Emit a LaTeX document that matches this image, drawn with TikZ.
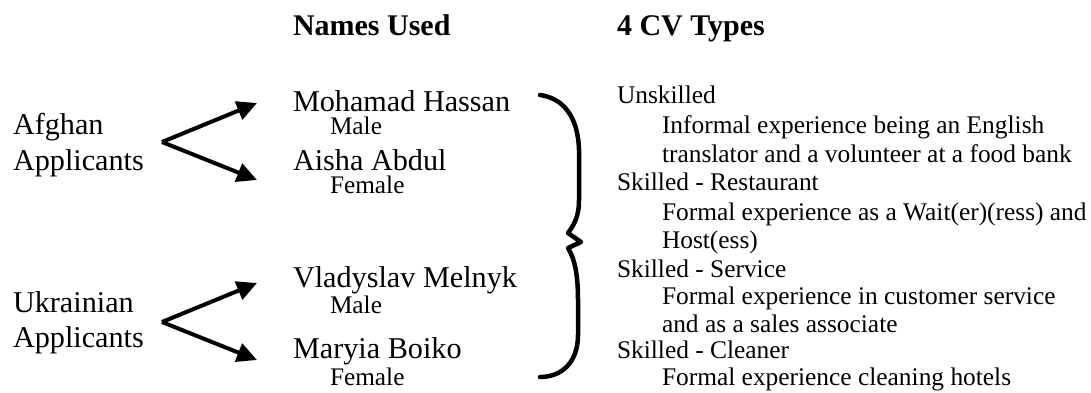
\documentclass[tikz,border=0pt]{standalone}
\usepackage{fontspec}
\setmainfont{Liberation Serif}
\usetikzlibrary{arrows.meta}
\tikzset{
  lbl/.style={anchor=base west, inner sep=0pt, outer sep=0pt, font=\fontsize{30.2}{36}\selectfont},
  head/.style={lbl, font=\fontsize{30}{36}\selectfont\bfseries},
  sub/.style={lbl, font=\fontsize{25.3}{29}\selectfont},
  cv/.style={lbl, font=\fontsize{25.4}{29}\selectfont},
  arr/.style={line width=4pt, -{Triangle[length=20pt,width=19pt]}},
  brace/.style={line width=4.5pt, line cap=round, line join=round}
}
\begin{document}
\begin{tikzpicture}[x=1pt,y=-1pt]
\useasboundingbox (0,0) rectangle (1091,392);
% headings
\node[head] (h1) at (293,35) {Names Used};
\node[head] (h2) at (617,35) {4 CV Types};
% groups
\node[lbl] (afg1) at (13,134) {Afghan};
\node[lbl] (afg2) at (13,170) {Applicants};
\node[lbl] (ukr1) at (13,312) {Ukrainian};
\node[lbl] (ukr2) at (13,347) {Applicants};
% names
\node[lbl] (mh) at (293,111) {Mohamad Hassan};
\node[sub] (mhs) at (330,134) {Male};
\node[lbl] (ab) at (293,170) {Aisha Abdul};
\node[sub] (abs) at (330,193) {Female};
\node[lbl] (vm) at (293,287) {Vladyslav Melnyk};
\node[sub] (vms) at (330,313) {Male};
\node[lbl] (mb) at (293,358) {Maryia Boiko};
\node[sub] (mbs) at (330,385) {Female};
% CV types
\node[cv] (c1) at (617,103) {Unskilled};
\node[cv] (c1a) at (662,133) {Informal experience being an English};
\node[cv] (c1b) at (662,162) {translator and a volunteer at a food bank};
\node[cv] (c2) at (617,190) {Skilled - Restaurant};
\node[cv] (c2a) at (662,220) {Formal experience as a Wait(er)(ress) and};
\node[cv] (c2b) at (662,248) {Host(ess)};
\node[cv] (c3) at (617,277) {Skilled - Service};
\node[cv] (c3a) at (662,304) {Formal experience in customer service};
\node[cv] (c3b) at (662,332) {and as a sales associate};
\node[cv] (c4) at (617,358) {Skilled - Cleaner};
\node[cv] (c4a) at (662,385) {Formal experience cleaning hotels};
% arrows
\coordinate (v1) at (162,142);
\coordinate (t1) at (257,103);
\coordinate (t2) at (257,180);
\coordinate (v2) at (162,322);
\coordinate (t3) at (257,283);
\coordinate (t4) at (257,360);
\draw[arr] (v1) -- (t1);
\draw[arr] (v1) -- (t2);
\draw[arr] (v2) -- (t3);
\draw[arr] (v2) -- (t4);
% brace
\coordinate (bt) at (540,95);
\coordinate (bb) at (540,377);
\draw[brace] (bt) .. controls (562,98) and (578,115) .. (579,150)
  -- (579,200) .. controls (579,218) and (573,226) .. (568,233)
  -- (581,242) -- (568,248)
  .. controls (574,258) and (578,272) .. (578,300)
  -- (578,335) .. controls (578,362) and (562,377) .. (bb);
\end{tikzpicture}
\end{document}
